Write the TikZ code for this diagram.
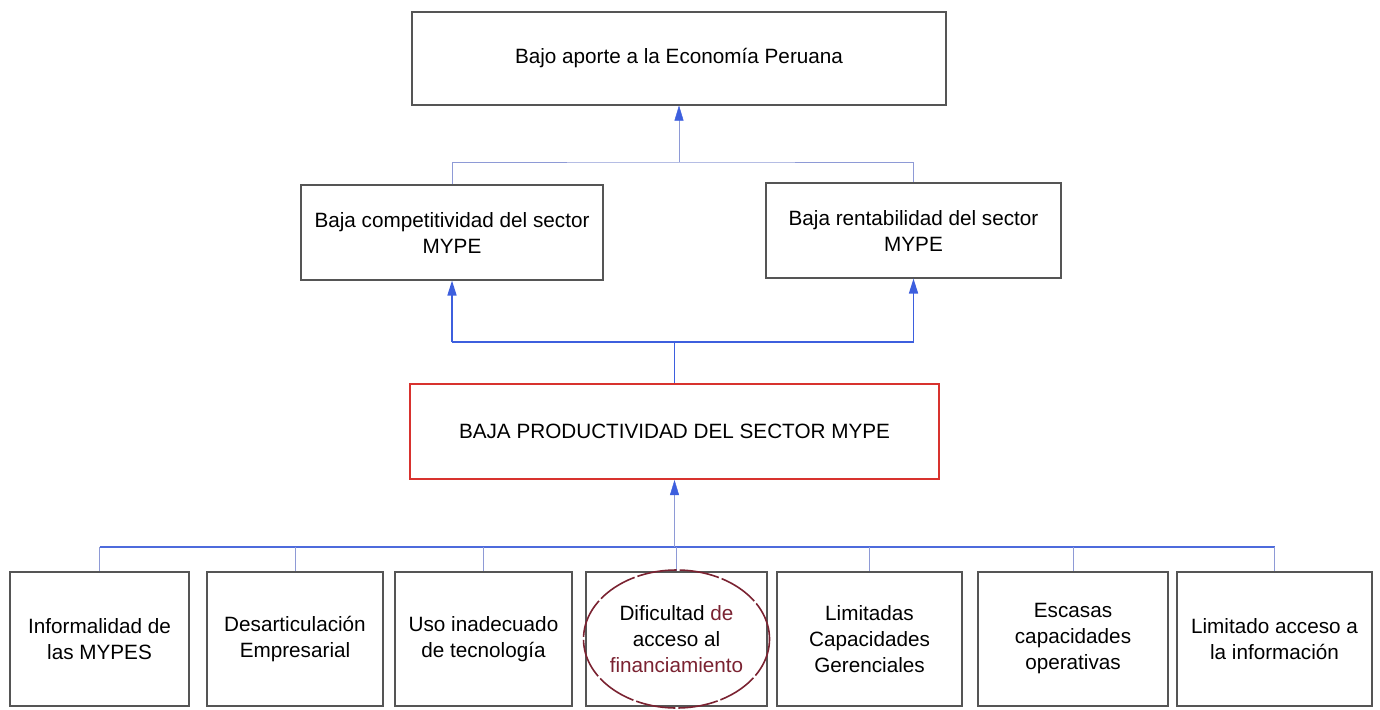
\documentclass[tikz,border=0pt]{standalone}
\usepackage{fontspec}
\setmainfont{Liberation Sans}
\usetikzlibrary{arrows.meta}
\definecolor{linea}{HTML}{8E9AD6}
\definecolor{flecha}{HTML}{3D5FDE}
\definecolor{borde}{HTML}{555555}
\definecolor{rojo}{HTML}{D8322E}
\definecolor{granate}{HTML}{7A2231}
\begin{document}
\begin{tikzpicture}[x=1pt,y=-1pt,
		caja/.style={draw=borde,line width=1.1pt,align=center,inner sep=2pt,
			font=\fontsize{20.7}{26}\selectfont},
		flechita/.style={-{Triangle[width=9pt,length=15pt,color=flecha]}},
	]
	\useasboundingbox (0,0) rectangle (1380,709);
	\node[caja,minimum width=534,minimum height=93] (aporte) at (679,58.5)
		{Bajo aporte a la Economía Peruana};
	\node[caja,minimum width=302,minimum height=95] (compet) at (452,232.5)
		{Baja competitividad del sector\\MYPE};
	\node[caja,minimum width=295,minimum height=95] (rentab) at (913.5,230.5)
		{Baja rentabilidad del sector\\MYPE};
	\node[caja,draw=rojo,line width=2pt,minimum width=529,minimum height=95] (prod) at (674.5,431.5)
		{BAJA PRODUCTIVIDAD DEL SECTOR MYPE};
	\foreach \n/\cx/\w/\t in {
			1/99.5/179/{Informalidad de\\las MYPES},
			2/295/176/{Desarticulación\\Empresarial},
			3/483.5/177/{Uso inadecuado\\de tecnología},
			4/676.5/181/{Dificultad \textcolor{granate}{de}\\acceso al\\\textcolor{granate}{financiamiento}},
			5/869.5/185/{Limitadas\\Capacidades\\Gerenciales},
			6/1073/190/{Escasas\\capacidades\\operativas},
			7/1274.5/195/{Limitado acceso a\\la información}}
		\node[caja,minimum width=\w,minimum height=134] (b\n) at (\cx,639) {\t};
	\coordinate (j1) at (aporte.south |- 0,162);
	\draw[linea,thin] (compet.north) |- (j1) -| (rentab.north);
	\draw[linea,flechita] (j1) -- (aporte.south);
	\coordinate (j2) at (prod.north |- 0,342);
	\draw[flecha,line width=1.6pt] (compet.south |- j2) -- (rentab.south |- j2);
	\draw[flecha,line width=1.6pt,flechita] (j2 -| compet.south) -- (compet.south);
	\draw[flecha,line width=1.6pt,flechita] (j2 -| rentab.south) -- (rentab.south);
	\draw[flecha,line width=1.2pt] (j2) -- (prod.north);
	\coordinate (j3) at (prod.south |- 0,547);
	\draw[flecha!80!linea,line width=1.2pt] (b1.north |- j3) -- (b7.north |- j3);
	\foreach \n in {1,...,7}
		\draw[linea,thin] (b\n.north |- j3) -- (b\n.north);
	\draw[linea,flechita] (j3) -- (prod.south);
	\draw[granate,line width=1.6pt,dash pattern=on 40pt off 3pt] (b4.center) ellipse [x radius=93,y radius=69];
\end{tikzpicture}
\end{document}
